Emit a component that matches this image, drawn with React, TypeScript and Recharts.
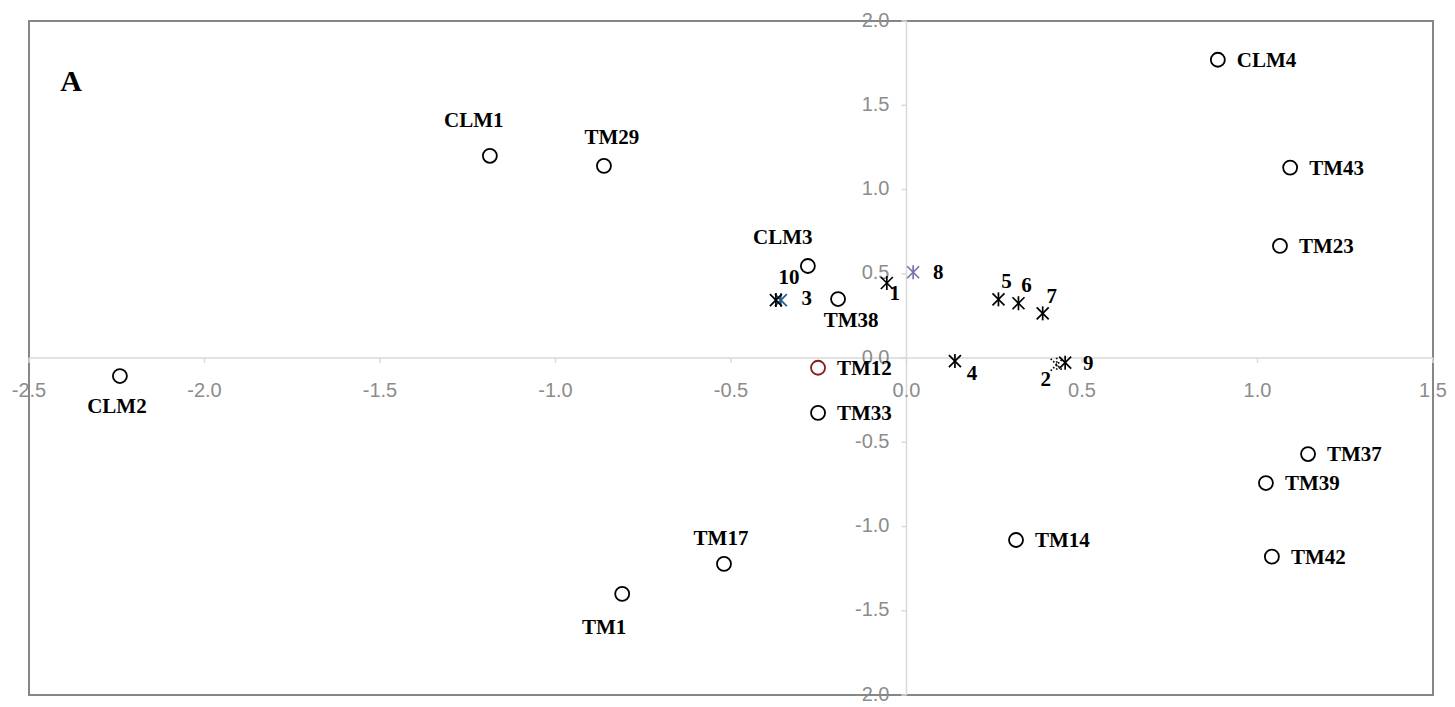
import React from 'react';
import {
  ScatterChart, Scatter, XAxis, YAxis, ReferenceLine, ReferenceDot, ReferenceArea, Customized
} from 'recharts';

// PCA scores: accessions (open circles) and environments (stars)
const accessionNames = ['CLM1', 'CLM2', 'CLM3', 'CLM4', 'TM1', 'TM12', 'TM14', 'TM17', 'TM23', 'TM29', 'TM33', 'TM37', 'TM38', 'TM39', 'TM42', 'TM43'];
const accessionPc1 = [-1.187, -2.241, -0.281, 0.887, -0.81, -0.252, 0.312, -0.52, 1.064, -0.862, -0.252, 1.144, -0.195, 1.024, 1.041, 1.093];
const accessionPc2 = [1.2, -0.107, 0.546, 1.77, -1.4, -0.058, -1.08, -1.222, 0.665, 1.14, -0.326, -0.57, 0.35, -0.742, -1.179, 1.13];

const siteNames = ['1', '2', '3', '4', '5', '6', '7', '8', '9', '10'];
const sitePc1 = [-0.056, 0.428, -0.358, 0.138, 0.262, 0.319, 0.388, 0.019, 0.452, -0.372];
const sitePc2 = [0.445, -0.04, 0.344, -0.018, 0.348, 0.325, 0.265, 0.509, -0.028, 0.344];

const xTicks = [-2.5, -2.0, -1.5, -1.0, -0.5, 0.0, 0.5, 1.0, 1.5];
const yTicks = [-2.0, -1.5, -1.0, -0.5, 0.0, 0.5, 1.0, 1.5, 2.0];

// label offsets from the marker centre (default: to the right)
const labelSpots: Record<string, [number, number, 'start' | 'middle']> = {
  CLM1: [-16, -36, 'middle'],
  TM29: [8, -29, 'middle'],
  CLM3: [-25, -29, 'middle'],
  TM38: [13, 21, 'middle'],
  CLM2: [-3, 30, 'middle'],
  TM17: [-3, -26, 'middle'],
  TM1: [-18, 33, 'middle'],
  '1': [8, 10, 'middle'],
  '2': [-11, 14, 'middle'],
  '3': [26, -2, 'middle'],
  '4': [17, 12, 'middle'],
  '5': [8, -18, 'middle'],
  '6': [8, -18, 'middle'],
  '7': [9, -17, 'middle'],
  '8': [25, 0, 'middle'],
  '9': [23, 0, 'middle'],
  '10': [13, -23, 'middle'],
};

const markColors: Record<string, string> = { TM12: '#8b1a1a', '3': '#1f5a8a', '8': '#7474ac' };

const accessions = accessionNames.map((name, i) => ({ name, x: accessionPc1[i], y: accessionPc2[i] }));
const sites = siteNames.map((name, i) => ({ name, x: sitePc1[i], y: sitePc2[i] }));

const GRAY = '#8c8c8c';
const AXIS = '#d9d9d9';
const BORDER = '#868686';

const PointLabel = ({ cx, cy, name }: { cx: number; cy: number; name: string }) => {
  const [dx, dy, anchor] = labelSpots[name] || [19, 0, 'start'];
  return (
    <text
      x={cx + dx}
      y={cy + dy + 7}
      textAnchor={anchor}
      fontFamily="'Liberation Serif', 'Times New Roman', serif"
      fontWeight="bold"
      fontSize={21}
      fill="#000"
    >
      {name}
    </text>
  );
};

const CircleMark = (props: any) => {
  const { cx, cy, payload } = props;
  const c = markColors[payload.name] || '#000';
  return (
    <g>
      <circle cx={cx} cy={cy} r={7} fill="#fff" stroke={c} strokeWidth={1.8} />
      <PointLabel cx={cx} cy={cy} name={payload.name} />
    </g>
  );
};

const StarMark = (props: any) => {
  const { cx, cy, payload } = props;
  const c = markColors[payload.name] || '#000';
  const dash = payload.name === '2' ? '1.5 2' : undefined;
  return (
    <g>
      <g stroke={c} strokeWidth={1.7} strokeDasharray={dash}>
        <line x1={cx - 6} y1={cy - 6} x2={cx + 6} y2={cy + 6} />
        <line x1={cx - 6} y1={cy + 6} x2={cx + 6} y2={cy - 6} />
        <line x1={cx} y1={cy - 7} x2={cx} y2={cy + 7} />
      </g>
      <PointLabel cx={cx} cy={cy} name={payload.name} />
    </g>
  );
};

const tickFont = { fontFamily: "'Liberation Sans', Arial, sans-serif", fontSize: 20, fill: GRAY };

const App: React.FC = () => {
  return (
    <div style={{ width: 1440, height: 699 }}>
      <ScatterChart width={1440} height={699} margin={{ top: 13, right: 15, bottom: 12, left: 21 }}>
        <XAxis type="number" dataKey="x" domain={[-2.5, 1.5]} ticks={xTicks} hide />
        <YAxis type="number" dataKey="y" domain={[-2, 2]} ticks={yTicks} hide />

        <ReferenceLine x={0} stroke={AXIS} strokeWidth={1.5} />
        <ReferenceLine y={0} stroke={AXIS} strokeWidth={1.5} />

        {xTicks.map((t) => (
          <ReferenceDot
            key={`xt${t}`}
            x={t}
            y={0}
            r={0}
            shape={(p: any) => (
              <g>
                <line x1={p.cx} y1={p.cy} x2={p.cx} y2={p.cy + 5} stroke={AXIS} strokeWidth={1.5} />
                <text x={p.cx} y={p.cy + 39} textAnchor="middle" {...tickFont}>{t.toFixed(1)}</text>
              </g>
            )}
          />
        ))}
        {yTicks.map((t) => (
          <ReferenceDot
            key={`yt${t}`}
            x={0}
            y={t}
            r={0}
            shape={(p: any) => (
              <g>
                <line x1={p.cx - 5} y1={p.cy} x2={p.cx} y2={p.cy} stroke={AXIS} strokeWidth={1.5} />
                <text x={p.cx - 17} y={p.cy + 5.5} textAnchor="end" {...tickFont}>{t.toFixed(1)}</text>
              </g>
            )}
          />
        ))}

        <Scatter data={accessions} shape={CircleMark} isAnimationActive={false} />
        <Scatter data={sites} shape={StarMark} isAnimationActive={false} />

        <ReferenceArea x1={-2.5} x2={1.5} y1={-2} y2={2} fill="none" fillOpacity={0} stroke={BORDER} strokeWidth={2} />

        <Customized
          component={() => (
            <text x={63} y={83} textAnchor="middle" fontFamily="'Liberation Serif', 'Times New Roman', serif" fontWeight="bold" fontSize={30}>
              A
            </text>
          )}
        />
      </ScatterChart>
    </div>
  );
};

export default App;
